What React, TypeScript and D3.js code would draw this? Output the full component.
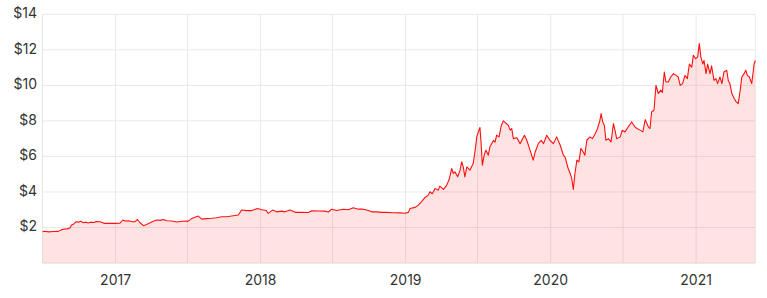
import React from "react";
import * as d3 from "d3";

const START_DATE = "2016-07-01";

const dayOffsets: number[] = [
  0, 6, 15, 27, 40, 46, 52, 61, 69, 73, 79, 84, 90, 96, 103, 109, 115, 121, 128, 136,
  145, 152, 157, 170, 182, 195, 202, 208, 216, 225, 233, 239, 245, 254, 262, 271, 279, 287, 296, 304,
  313, 325, 338, 350, 367, 376, 384, 392, 401, 413, 426, 438, 451, 464, 476, 493, 501, 514, 527, 541,
  552, 563, 568, 579, 589, 602,
  610, 623, 636, 652, 669, 678, 694, 711, 719, 728, 740, 757, 770, 782, 795, 807, 818, 829, 841, 854,
  866, 883, 900,
  912, 921, 925, 938, 946, 954, 963, 971, 975, 981, 988, 996, 1000, 1009, 1017, 1023, 1030, 1034, 1038, 1045,
  1051, 1055, 1059, 1063, 1068, 1076, 1084, 1089, 1093, 1097, 1101, 1104, 1107, 1112, 1116, 1122, 1126, 1135, 1139, 1143,
  1149, 1155, 1160, 1167, 1172, 1177, 1181, 1185, 1194, 1202,
  1213, 1219, 1227, 1235, 1240, 1248, 1255, 1261, 1269, 1277, 1286, 1294, 1303, 1311, 1315, 1323, 1328, 1332, 1336, 1340,
  1345, 1350, 1355, 1361, 1365, 1370, 1378, 1384, 1391, 1397, 1403, 1406, 1410, 1414, 1418, 1424, 1431, 1437, 1441, 1445,
  1454, 1459, 1466, 1474, 1483,
  1491, 1496, 1504, 1511, 1517, 1525, 1529, 1533, 1539, 1544, 1550, 1556, 1560, 1565, 1569, 1575, 1581, 1588, 1595, 1600,
  1605, 1611, 1617, 1623, 1628, 1634, 1638, 1644, 1649, 1653, 1657, 1662, 1665, 1670, 1674, 1680, 1684, 1690, 1695, 1699,
  1705, 1710, 1715, 1722, 1726, 1730, 1735, 1741, 1746, 1751, 1756, 1760, 1766, 1770, 1774, 1779, 1785, 1791, 1794,
];

const prices: number[] = [
  1.76, 1.79, 1.75, 1.77, 1.78, 1.85, 1.9, 1.92, 1.97, 2.14, 2.2, 2.32, 2.3, 2.35, 2.27, 2.3, 2.25, 2.3, 2.28, 2.33,
  2.32, 2.26, 2.23, 2.23, 2.23, 2.24, 2.42, 2.36, 2.38, 2.32, 2.33, 2.45, 2.28, 2.1, 2.17, 2.26, 2.35, 2.42, 2.4, 2.45,
  2.38, 2.36, 2.31, 2.35, 2.36, 2.51, 2.58, 2.64, 2.47, 2.5, 2.52, 2.55, 2.6, 2.6, 2.65, 2.7, 2.98, 2.95, 2.95, 3.07,
  3.0, 2.96, 2.79, 2.98, 2.88, 2.92,
  2.88, 2.98, 2.85, 2.86, 2.84, 2.94, 2.93, 2.92, 2.87, 3.03, 2.96, 3.03, 3.0, 3.11, 3.03, 3.03, 2.97, 2.88, 2.88, 2.85,
  2.85, 2.83, 2.82,
  2.8, 2.85, 3.07, 3.13, 3.26, 3.45, 3.69, 3.82, 4.01, 3.9, 4.2, 4.1, 4.33, 4.14, 4.37, 4.67, 5.32, 5.04, 5.13, 4.85,
  5.23, 5.7, 5.41, 4.85, 5.41, 5.23, 5.6, 6.35, 7.1, 7.38, 7.63, 6.72, 5.51, 6.1, 6.35, 6.07, 6.54, 6.9, 6.8, 7.2,
  7.1, 7.76, 8.0, 7.85, 7.76, 7.48, 7.57, 7.0, 7.05, 6.72,
  7.19, 6.91, 6.35, 5.79, 6.25, 6.72, 6.91, 6.72, 7.19, 6.91, 6.72, 7.1, 6.63, 6.07, 5.97, 5.32, 5.04, 4.76, 4.14, 5.04,
  5.79, 5.69, 6.45, 6.25, 6.07, 6.91, 7.1, 7.0, 7.28, 7.57, 8.04, 8.41, 7.94, 7.76, 6.91, 7.0, 6.82, 7.85, 7.47, 7.0,
  7.1, 7.47, 7.38, 7.66, 7.94,
  7.66, 7.57, 7.48, 7.38, 8.07, 7.66, 7.57, 8.5, 8.6, 10.0, 9.54, 9.73, 9.6, 10.75, 10.19, 10.19, 10.47, 10.66, 10.56, 10.47,
  10.0, 10.1, 10.56, 10.38, 11.2, 11.03, 11.69, 11.5, 11.6, 12.35, 11.6, 11.2, 11.4, 10.66, 11.2, 10.66, 11.1, 10.28, 10.38, 10.1,
  10.47, 10.1, 10.75, 10.85, 10.28, 10.1, 9.54, 9.26, 9.07, 8.97, 9.73, 10.47, 10.66, 10.85, 10.56, 10.47, 10.1, 11.2, 11.4,
];

const yTicks: number[] = [2, 4, 6, 8, 10, 12, 14];

const W = 767;
const H = 298;
const LEFT = 42.5;
const RIGHT = 755.3;
const TOP = 14.3;
const BOTTOM = 263;

export default function App() {
  const start = d3.timeParse("%Y-%m-%d")(START_DATE) as Date;
  const data = dayOffsets.map((d, i) => ({ date: d3.timeDay.offset(start, d), value: prices[i] }));

  const x = d3
    .scaleTime()
    .domain([data[0].date, data[data.length - 1].date])
    .range([LEFT, RIGHT]);
  const y = d3.scaleLinear().domain([0, 14]).range([BOTTOM, TOP]);

  const halfYears = x.ticks(d3.timeMonth.every(6) as d3.TimeInterval);
  const years = x.ticks(d3.timeYear.every(1) as d3.TimeInterval);

  const line = d3
    .line<{ date: Date; value: number }>()
    .x((d) => x(d.date))
    .y((d) => y(d.value));
  const area = d3
    .area<{ date: Date; value: number }>()
    .x((d) => x(d.date))
    .y0(y(0))
    .y1((d) => y(d.value));

  const fmt = d3.timeFormat("%Y");
  const font = "Inter, 'Noto Sans', sans-serif";

  return (
    <svg
      width={W}
      height={H}
      style={{ position: "absolute", left: 0, top: 0, display: "block", background: "#fff" }}
    >
      {/* horizontal grid */}
      {yTicks.map((t) => (
        <line key={"h" + t} x1={LEFT} x2={RIGHT} y1={y(t)} y2={y(t)} stroke="#e9e9e9" strokeWidth={1} />
      ))}
      {/* vertical grid */}
      {halfYears.map((t) => (
        <line
          key={"v" + t.getTime()}
          x1={x(t)}
          x2={x(t)}
          y1={TOP}
          y2={BOTTOM}
          stroke="#e9e9e9"
          strokeWidth={1}
        />
      ))}
      <line x1={LEFT} x2={LEFT} y1={TOP} y2={BOTTOM} stroke="#e4e4e4" strokeWidth={1} />
      <line x1={RIGHT} x2={RIGHT} y1={TOP} y2={BOTTOM} stroke="#ececec" strokeWidth={1} />
      <path d={area(data) || ""} fill="rgba(255,0,0,0.11)" />
      <line x1={LEFT} x2={RIGHT} y1={BOTTOM} y2={BOTTOM} stroke="#e2d0d0" strokeWidth={1} />
      <path d={line(data) || ""} fill="none" stroke="#ff1010" strokeWidth={1.1} strokeLinejoin="round" />
      {/* y labels */}
      {yTicks.map((t) => (
        <text
          key={"yl" + t}
          x={37}
          y={y(t)}
          textAnchor="end"
          dominantBaseline="middle"
          fontFamily={font}
          fontSize={14}
          fill="#333"
        >
          {"$" + t}
        </text>
      ))}
      {/* x labels */}
      {years.map((t) => (
        <text
          key={"xl" + t.getTime()}
          x={x(t)}
          y={285}
          textAnchor="middle"
          fontFamily={font}
          fontSize={14}
          fill="#333"
        >
          {fmt(t)}
        </text>
      ))}
    </svg>
  );
}
